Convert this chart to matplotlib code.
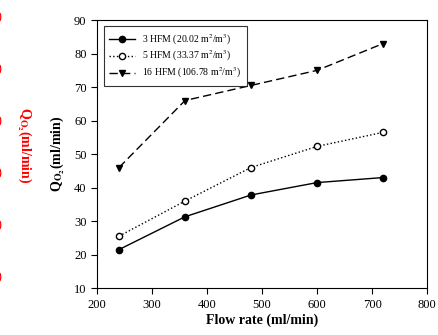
import numpy as np
import matplotlib.pyplot as plt

plt.rcParams['font.family'] = ['Liberation Serif', 'DejaVu Serif']
plt.rcParams['mathtext.fontset'] = 'stix'

flow = [240, 360, 480, 600, 720]
hfm3 = [21.5, 31.3, 37.8, 41.5, 43.0]
hfm5 = [25.5, 36.0, 46.0, 52.3, 56.5]
hfm16 = [46.0, 66.0, 70.5, 75.0, 83.0]

fig = plt.figure(figsize=(4.39, 3.35), dpi=100)
ax = fig.add_axes([0.221, 0.140, 0.752, 0.800])

ax.plot(flow, hfm3, '-', color='black', lw=1, marker='o', ms=4.5,
        label='3 HFM (20.02 m$^2$/m$^3$)')
ax.plot(flow, hfm5, ':', color='black', lw=1, marker='o', ms=4.5, mfc='white',
        label='5 HFM (33.37 m$^2$/m$^3$)')
ax.plot(flow, hfm16, '--', color='black', lw=1, marker='v', ms=4.5, dashes=(6, 3),
        label='16 HFM (106.78 m$^2$/m$^3$)')

ax.set_xlim(200, 800)
ax.set_ylim(10, 90)
ax.set_xticks(range(200, 801, 100))
ax.set_yticks(range(10, 91, 10))
ax.tick_params(direction='out', length=4, width=0.8, labelsize=9)
ax.tick_params(top=False, right=False)
for s in ax.spines.values():
    s.set_linewidth(0.8)

ax.set_xlabel('Flow rate (ml/min)', fontsize=10, fontweight='bold', labelpad=2)
ax.set_ylabel(r'Q$_{\mathbf{O_2}}$(ml/min)', fontsize=10, fontweight='bold', labelpad=6)

leg = ax.legend(loc='upper left', fontsize=7, frameon=True, fancybox=False,
                edgecolor='black', borderpad=0.6, handlelength=2.6,
                labelspacing=0.25, bbox_to_anchor=(0.005, 0.995))
leg.get_frame().set_linewidth(0.8)

# remnants of the neighbouring panel at the left edge
for yp in [18, 70, 122, 174, 226, 278]:
    fig.text(-0.004, 1 - yp / 335, '0', color='red', fontsize=10,
             ha='center', va='center')
fig.text(25 / 439, 1 - 145 / 335, r'Q$_{\mathbf{O_2}}$(ml/min)', color='red',
         fontsize=10, fontweight='bold', rotation=270, ha='center', va='center')

fig.savefig('out.png', dpi=100)
